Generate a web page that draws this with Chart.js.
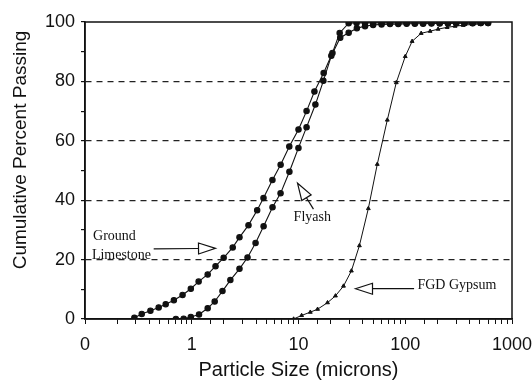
<!DOCTYPE html>
<html>
<head>
<meta charset="utf-8">
<script src="https://cdn.jsdelivr.net/npm/chart.js@4"></script>
<style>
  html, body { margin: 0; padding: 0; background: #fff; }
</style>
</head>
<body>
<canvas id="psdChart" width="532" height="383"></canvas>
<script>
// Particle size distributions
const limestoneX = [0.29, 0.34, 0.41, 0.49, 0.57, 0.68, 0.82, 0.98, 1.16, 1.41, 1.67, 1.99, 2.42, 2.8, 3.4, 4.1, 4.7, 5.7, 6.8, 8.2, 10.0, 11.9, 14.1, 17.2, 20.8, 24.3, 29.5, 35, 42, 50, 60, 72, 86, 103, 123, 147, 176, 210, 251, 300, 358, 428, 510, 597];
const limestoneY = [0.4, 1.7, 2.8, 3.9, 5.0, 6.3, 8.1, 10.2, 12.6, 15.0, 17.8, 20.6, 24.1, 27.5, 31.6, 36.6, 40.7, 46.8, 51.9, 58.1, 63.8, 70.0, 76.6, 82.8, 89.6, 96.3, 99.6, 99.7, 99.7, 99.7, 99.7, 99.7, 99.7, 99.7, 99.7, 99.7, 99.7, 99.7, 99.7, 99.7, 99.7, 99.7, 99.7, 99.7];

const flyashX = [0.71, 0.84, 0.98, 1.17, 1.41, 1.64, 1.94, 2.3, 2.8, 3.33, 3.96, 4.71, 5.71, 6.79, 8.22, 9.99, 11.9, 14.4, 17.1, 20.3, 24.6, 29.5, 35.2, 42, 50, 60, 72, 86, 103, 123, 147, 176, 210, 251, 300, 358, 428, 510, 597];
const flyashY = [0.0, 0.1, 0.7, 1.5, 3.6, 5.9, 9.4, 13.1, 16.9, 20.7, 25.6, 31.2, 37.6, 42.3, 49.6, 57.6, 64.6, 72.2, 80.2, 88.6, 94.7, 96.4, 97.9, 98.6, 99.0, 99.2, 99.3, 99.3, 99.4, 99.4, 99.4, 99.5, 99.5, 99.5, 99.6, 99.6, 99.6, 99.7, 99.7];

const gypsumX = [9.0, 10.7, 12.9, 15.1, 18.7, 22.2, 26.4, 31.3, 37.2, 45.1, 54.7, 67.9, 82.4, 100, 116, 141, 171, 203, 247, 293, 348, 423, 501, 597];
const gypsumY = [0.0, 1.2, 2.3, 3.3, 5.5, 7.8, 11.1, 16.2, 24.7, 37.2, 52.1, 67.0, 79.6, 88.4, 93.5, 96.2, 96.9, 97.6, 98.2, 98.6, 98.9, 99.2, 99.3, 99.5];

// Tick labels on the particle-size axis (0.1 is printed as "0")
const xTickValues = [0.1, 1, 10, 100, 1000];
const xTickLabels = ['0', '1', '10', '100', '1000'];
const yMajorTicks = [0, 20, 40, 60, 80, 100];

// Hand-drawn annotations, given in data units
const noteTexts = ['Ground', 'Limestone', 'Flyash', 'FGD Gypsum'];
const noteX = [0.119, 0.116, 9.0, 130];
const noteY = [27.7, 21.3, 34.3, 11.2];
const arrowTailX = [0.44, 13.8, 121];
const arrowTailY = [23.6, 37.0, 10.2];
const arrowTipX = [1.67, 9.8, 34.2];
const arrowTipY = [23.8, 45.7, 10.2];

const ink = '#111';

function toPoints(xs, ys) {
    return xs.map((v, i) => ({ x: v, y: ys[i] }));
}

function drawArrow(ctx, x1, y1, x2, y2) {
    const ang = Math.atan2(y2 - y1, x2 - x1);
    const len = 17, half = 5.5;
    const bx = x2 - len * Math.cos(ang), by = y2 - len * Math.sin(ang);
    ctx.beginPath();
    ctx.moveTo(x1, y1);
    ctx.lineTo(bx, by);
    ctx.stroke();
    ctx.beginPath();
    ctx.moveTo(x2, y2);
    ctx.lineTo(bx + half * Math.sin(ang), by - half * Math.cos(ang));
    ctx.lineTo(bx - half * Math.sin(ang), by + half * Math.cos(ang));
    ctx.closePath();
    ctx.fillStyle = '#fff';
    ctx.fill();
    ctx.stroke();
}

// Plot frame, rotated y title and the arrow notes
const notesPlugin = {
    id: 'notes',
    beforeDatasetsDraw(chart) {
        const { ctx, chartArea: a } = chart;
        ctx.save();
        ctx.strokeStyle = ink;
        ctx.lineWidth = 1.5;
        ctx.strokeRect(a.left, a.top, a.right - a.left, a.bottom - a.top);
        ctx.restore();
    },
    afterDraw(chart) {
        const { ctx, scales: { x, y } } = chart;
        ctx.save();
        ctx.fillStyle = ink;
        ctx.font = '19px "Liberation Sans", Arial, sans-serif';
        ctx.textAlign = 'center';
        ctx.textBaseline = 'middle';
        ctx.translate(21, 150);
        ctx.rotate(-Math.PI / 2);
        ctx.fillText('Cumulative Percent Passing', 0, 0);
        ctx.restore();

        ctx.save();
        ctx.fillStyle = ink;
        ctx.strokeStyle = ink;
        ctx.lineWidth = 1.2;
        ctx.font = '14px "Liberation Serif", "Times New Roman", serif';
        ctx.textAlign = 'left';
        ctx.textBaseline = 'middle';
        noteTexts.forEach((t, i) => {
            ctx.fillText(t, x.getPixelForValue(noteX[i]), y.getPixelForValue(noteY[i]));
        });
        arrowTailX.forEach((v, i) => {
            drawArrow(ctx,
                x.getPixelForValue(v), y.getPixelForValue(arrowTailY[i]),
                x.getPixelForValue(arrowTipX[i]), y.getPixelForValue(arrowTipY[i]));
        });
        ctx.restore();
    }
};

const tickFont = { family: '"Liberation Sans", Arial, sans-serif', size: 18 };

new Chart(document.getElementById('psdChart').getContext('2d'), {
    type: 'scatter',
    data: {
        datasets: [{
            label: 'Ground Limestone',
            data: toPoints(limestoneX, limestoneY),
            showLine: true,
            borderColor: ink,
            backgroundColor: ink,
            borderWidth: 1.1,
            pointRadius: 2.7,
            pointStyle: 'circle'
        }, {
            label: 'Flyash',
            data: toPoints(flyashX, flyashY),
            showLine: true,
            borderColor: ink,
            backgroundColor: ink,
            borderWidth: 1.1,
            pointRadius: 2.7,
            pointStyle: 'circle'
        }, {
            label: 'FGD Gypsum',
            data: toPoints(gypsumX, gypsumY),
            showLine: true,
            borderColor: ink,
            backgroundColor: ink,
            borderWidth: 1,
            pointRadius: 2.2,
            pointStyle: 'triangle'
        }]
    },
    options: {
        responsive: false,
        animation: false,
        layout: { padding: { top: 22, right: 20, left: 0, bottom: 0 } },
        plugins: {
            legend: { display: false },
            tooltip: { enabled: false }
        },
        scales: {
            x: {
                type: 'logarithmic',
                min: 0.1,
                max: 1000,
                afterFit: s => { s.height = 64; s.paddingLeft = 0; s.paddingRight = 0; },
                border: { color: ink, width: 1.5 },
                grid: { drawOnChartArea: false, tickLength: 5, color: ink },
                ticks: {
                    autoSkip: false,
                    maxRotation: 0,
                    padding: 10,
                    color: ink,
                    font: tickFont,
                    callback: function(value) {
                        const k = xTickValues.findIndex(t => Math.abs(Math.log10(t) - Math.log10(value)) < 1e-6);
                        return k >= 0 ? xTickLabels[k] : '';
                    }
                },
                title: {
                    display: true,
                    text: 'Particle Size (microns)',
                    color: ink,
                    font: { family: '"Liberation Sans", Arial, sans-serif', size: 20 },
                    padding: { top: 0, bottom: 1 }
                }
            },
            y: {
                min: 0,
                max: 100,
                afterFit: s => { s.width = 85; },
                border: { color: ink, width: 1.5, dash: [6, 5] },
                grid: {
                    color: c => (c.tick && c.tick.value > 0 && c.tick.value < 100 && c.tick.value % 20 === 0) ? '#222' : 'rgba(0,0,0,0)',
                    tickColor: ink,
                    tickLength: 4,
                    lineWidth: 1.2
                },
                ticks: {
                    stepSize: 10,
                    padding: 6,
                    color: ink,
                    font: tickFont,
                    callback: v => yMajorTicks.includes(v) ? String(v) : ''
                }
            }
        }
    },
    plugins: [notesPlugin]
});
</script>
</body>
</html>
